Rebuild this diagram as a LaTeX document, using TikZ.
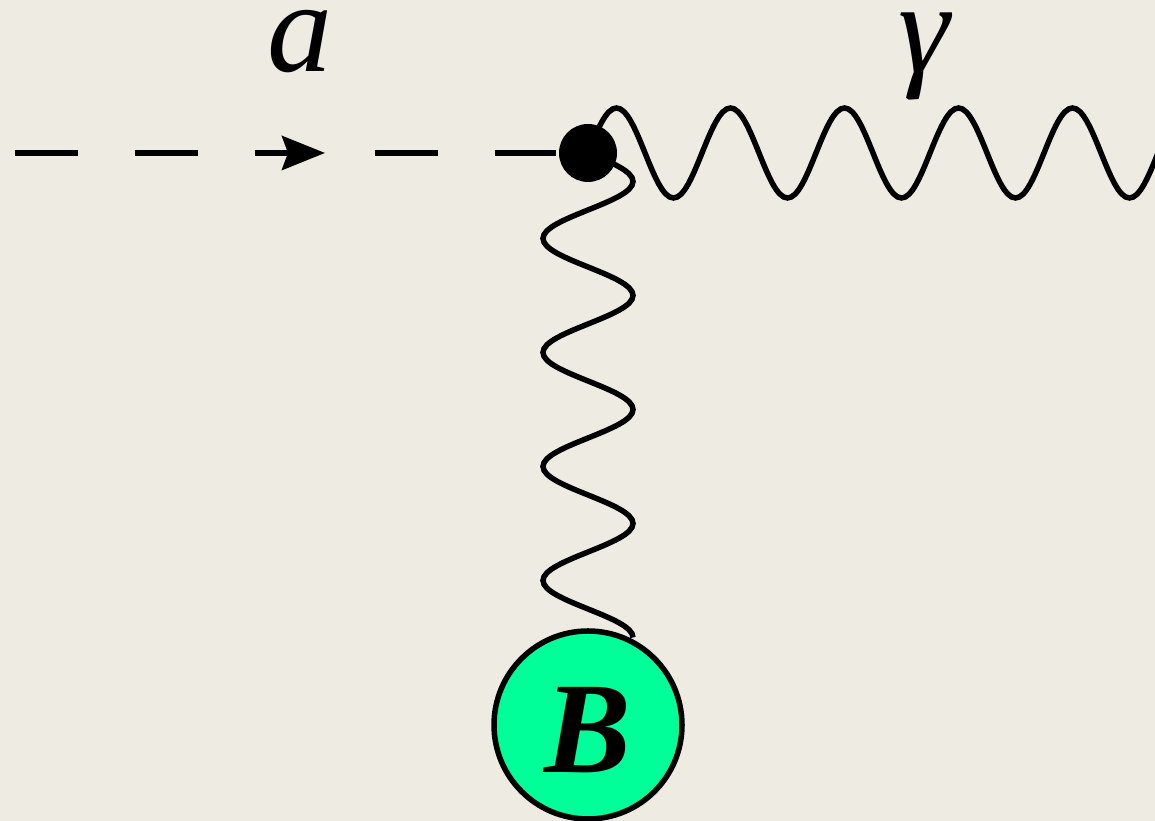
\documentclass[tikz,border=0pt]{standalone}
\usepackage{fontspec}
\setmainfont{Liberation Serif}
\usetikzlibrary{arrows.meta,decorations.markings}

\definecolor{paper}{RGB}{238,235,227}
\definecolor{blobgreen}{RGB}{0,255,153}

% plain sine wave, one quarter period per state
\pgfdeclaredecoration{photon}{rise}{
  \state{rise}[width=+.25\pgfdecorationsegmentlength, next state=fall]{
    \pgfpathsine{\pgfpoint{.25\pgfdecorationsegmentlength}{\pgfdecorationsegmentamplitude}}
  }
  \state{fall}[width=+.25\pgfdecorationsegmentlength, next state=dip]{
    \pgfpathcosine{\pgfpoint{.25\pgfdecorationsegmentlength}{-\pgfdecorationsegmentamplitude}}
  }
  \state{dip}[width=+.25\pgfdecorationsegmentlength, next state=back]{
    \pgfpathsine{\pgfpoint{.25\pgfdecorationsegmentlength}{-\pgfdecorationsegmentamplitude}}
  }
  \state{back}[width=+.25\pgfdecorationsegmentlength, next state=rise]{
    \pgfpathcosine{\pgfpoint{.25\pgfdecorationsegmentlength}{\pgfdecorationsegmentamplitude}}
  }
  \state{final}{}
}

\begin{document}
\begin{tikzpicture}[
    line width=0.055cm,
    lbl/.style={font=\fontsize{37}{44}\selectfont\itshape, inner sep=0},
    wave/.style={decorate, decoration={photon, segment length=1.14cm, amplitude=0.45cm}},
]
    % Background
    \fill[paper] (0,0) rectangle (11.55,8.21);
    \useasboundingbox (0,0) rectangle (11.55,8.21);

    % Vertex and blob
    \node[circle, fill=black, inner sep=0, minimum size=0.58cm] (v) at (5.88,6.68) {};
    \node[circle, draw, fill=blobgreen, inner sep=0, minimum size=1.88cm, text height=0.96cm,
          font=\fontsize{37}{44}\selectfont\bfseries\itshape] (b) at (5.88,0.96) {B};

    % Free ends
    \coordinate (s) at (0.15,6.68);
    \coordinate (g) at (11.6,6.68);
    \coordinate (w) at (5.88,1.83);

    % Incoming line
    \draw[dash pattern=on 0.63cm off 0.57cm, postaction={decorate},
          decoration={markings, mark=at position 3.1cm with {\arrow{Stealth[length=0.43cm, width=0.34cm, inset=0.06cm]}}}]
        (s) -- (v);

    % Photons
    \draw[wave] (v.center) -- (g);
    \draw[wave] (v.center) -- (w);

    % Labels
    \node[lbl, anchor=base] (la) at (3.00,7.49) {a};
    \node[lbl, anchor=base] (lg) at (9.24,7.48) {γ};
\end{tikzpicture}
\end{document}
